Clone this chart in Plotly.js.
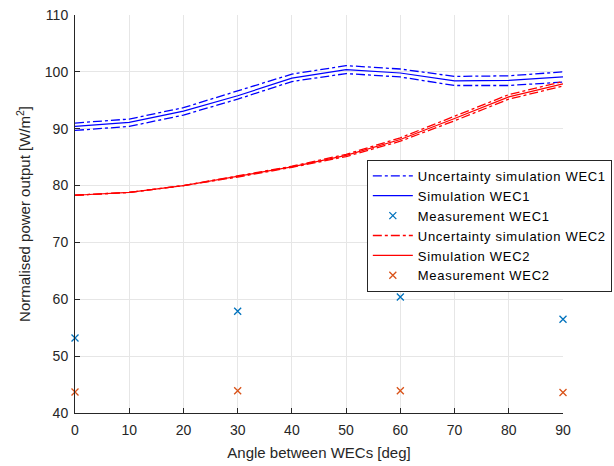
<!DOCTYPE html>
<html>
<head>
<meta charset="utf-8">
<script src="https://cdn.plot.ly/plotly-3.0.1.min.js"></script>
<style>html,body{margin:0;padding:0;background:#fff;}#chart{width:614px;height:466px;}
.legendtext{letter-spacing:0.7px;}</style>
</head>
<body>
<div id="chart"></div>
<script>
const angles = [0, 10, 20, 30, 40, 50, 60, 70, 80, 90];
const simWEC1 = [90.4, 91.1, 93.1, 95.8, 98.9, 100.4, 99.8, 98.4, 98.5, 99.1];
const uncUpperWEC1 = [91.0, 91.7, 93.7, 96.6, 99.6, 101.1, 100.5, 99.2, 99.3, 100.0];
const uncLowerWEC1 = [89.7, 90.4, 92.4, 95.2, 98.3, 99.7, 99.1, 97.6, 97.6, 98.2];
const simWEC2 = [78.3, 78.8, 80.0, 81.6, 83.3, 85.3, 88.1, 91.8, 95.6, 97.9];
const uncUpperWEC2 = [78.3, 78.8, 80.0, 81.7, 83.4, 85.5, 88.4, 92.2, 96.0, 98.3];
const uncLowerWEC2 = [78.3, 78.8, 80.0, 81.5, 83.2, 85.1, 87.8, 91.4, 95.2, 97.5];
const measAngles = [0, 30, 60, 90];
const measWEC1 = [53.2, 57.9, 60.4, 56.5];
const measWEC2 = [43.7, 43.9, 43.9, 43.6];

const blue = '#0000ff', red = '#ff0000', mBlue = '#0072BD', mOrange = '#D95319';

const traces = [
  {x: angles, y: uncUpperWEC1, mode: 'lines', name: 'Uncertainty simulation WEC1', legendgroup: 'u1',
   line: {color: blue, width: 1.3, dash: 'dashdot'}},
  {x: angles, y: uncLowerWEC1, mode: 'lines', name: 'Uncertainty simulation WEC1', legendgroup: 'u1', showlegend: false,
   line: {color: blue, width: 1.3, dash: 'dashdot'}},
  {x: angles, y: simWEC1, mode: 'lines', name: 'Simulation WEC1',
   line: {color: blue, width: 1.2}},
  {x: measAngles, y: measWEC1, mode: 'markers', name: 'Measurement WEC1', cliponaxis: false,
   marker: {symbol: 'x-thin', size: 7, line: {color: mBlue, width: 1.3}, color: mBlue}},
  {x: angles, y: uncUpperWEC2, mode: 'lines', name: 'Uncertainty simulation WEC2', legendgroup: 'u2',
   line: {color: red, width: 1.3, dash: 'dashdot'}},
  {x: angles, y: uncLowerWEC2, mode: 'lines', name: 'Uncertainty simulation WEC2', legendgroup: 'u2', showlegend: false,
   line: {color: red, width: 1.3, dash: 'dashdot'}},
  {x: angles, y: simWEC2, mode: 'lines', name: 'Simulation WEC2',
   line: {color: red, width: 1.2}},
  {x: measAngles, y: measWEC2, mode: 'markers', name: 'Measurement WEC2', cliponaxis: false,
   marker: {symbol: 'x-thin', size: 7, line: {color: mOrange, width: 1.3}, color: mOrange}}
];

const fam = 'Liberation Sans, Arial, sans-serif';
const axFont = {family: fam, size: 14, color: '#262626'};
const layout = {
  width: 614, height: 466,
  margin: {l: 75, r: 51, t: 15, b: 53, autoexpand: false},
  paper_bgcolor: '#fff', plot_bgcolor: '#fff',
  showlegend: true,
  font: axFont,
  xaxis: {
    range: [0, 90], tickvals: [0,10,20,30,40,50,60,70,80,90],
    showgrid: true, gridcolor: '#e6e6e6', gridwidth: 1,
    zeroline: false, showline: true, linecolor: '#262626', linewidth: 1,
    ticks: 'inside', ticklen: 5, tickcolor: '#262626', ticklabelstandoff: 4,
    tickfont: axFont,
    title: {text: 'Angle between WECs [deg]', font: {family: fam, size: 15, color: '#262626'}, standoff: 10}
  },
  yaxis: {
    range: [40, 110], tickvals: [40,50,60,70,80,90,100,110],
    showgrid: true, gridcolor: '#e6e6e6', gridwidth: 1,
    zeroline: false, showline: true, linecolor: '#262626', linewidth: 1,
    ticks: 'inside', ticklen: 5, tickcolor: '#262626', ticklabelstandoff: 3,
    tickfont: axFont,
    title: {text: 'Normalised power output [W/m<sup>2</sup>]', font: {family: fam, size: 15, color: '#262626'}, standoff: 10}
  },
  legend: {
    x: 0.598, y: 0.636, xanchor: 'left', yanchor: 'top',
    bgcolor: '#fff', bordercolor: '#262626', borderwidth: 1,
    font: {family: fam, size: 13, color: '#000'},
    tracegroupgap: 0, itemwidth: 40
  }
};

Plotly.newPlot('chart', traces, layout, {displayModeBar: false, staticPlot: true});
</script>
</body>
</html>
